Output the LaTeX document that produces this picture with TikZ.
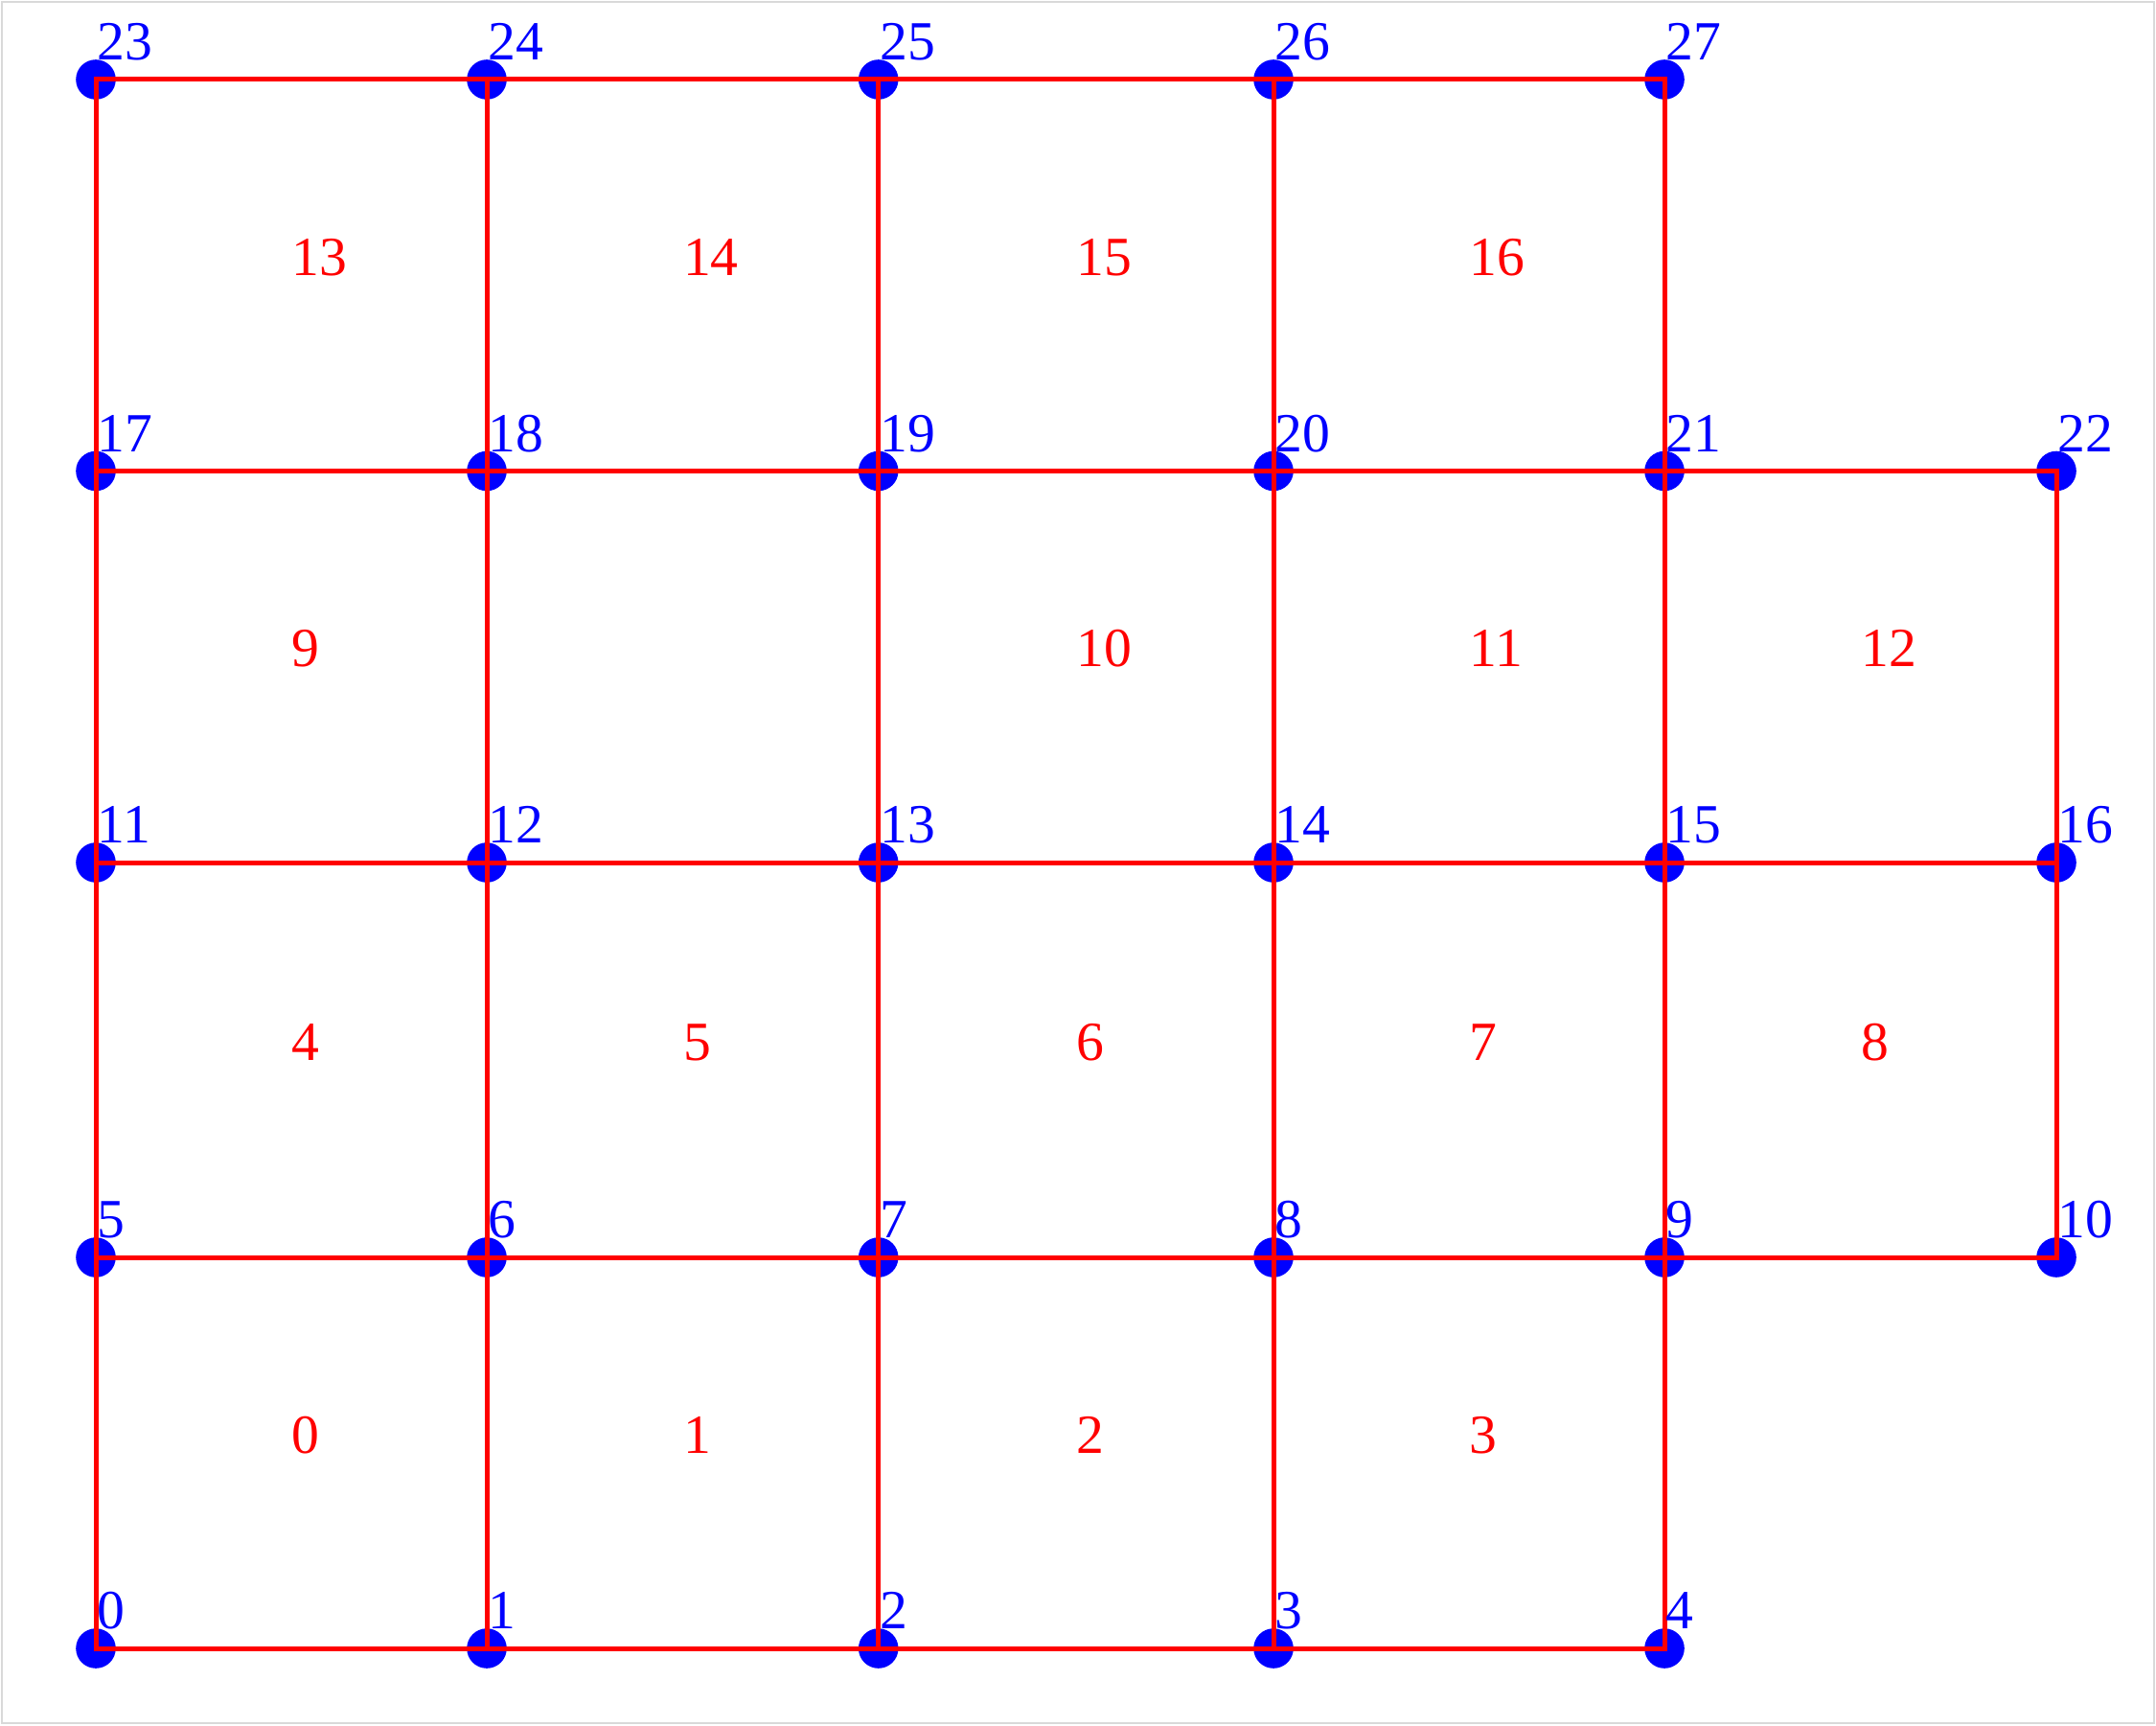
\documentclass[tikz,border=0pt]{standalone}
\usepackage{fontspec}
\setmainfont{Liberation Serif}
\usetikzlibrary{calc}
\begin{document}
\begin{tikzpicture}[
  vertex/.style={circle, fill=blue, draw=none, inner sep=0pt, minimum size=0.416cm},
  edge/.style={draw=red, line width=0.05cm, line join=miter},
  vlab/.style={anchor=base west, inner sep=0pt, text=blue, font=\fontsize{16.4}{19}\selectfont},
  elab/.style={anchor=base west, inner sep=0pt, text=red, font=\fontsize{16.4}{19}\selectfont},
  frame/.style={draw=gray!30, line width=0.4pt}
]
\useasboundingbox (0,0) rectangle (22.5,18);
\draw[frame] (0.02,0.02) rectangle (22.48,17.98);
% vertices
\foreach \i/\x/\y in {
  0/1.00/0.80, 1/5.08/0.80, 2/9.167/0.80, 3/13.29/0.80, 4/17.37/0.80,
  5/1.00/4.88, 6/5.08/4.88, 7/9.167/4.88, 8/13.29/4.88, 9/17.37/4.88, 10/21.46/4.88,
  11/1.00/9.00, 12/5.08/9.00, 13/9.167/9.00, 14/13.29/9.00, 15/17.37/9.00, 16/21.46/9.00,
  17/1.00/13.085, 18/5.08/13.085, 19/9.167/13.085, 20/13.29/13.085, 21/17.37/13.085, 22/21.46/13.085,
  23/1.00/17.17, 24/5.08/17.17, 25/9.167/17.17, 26/13.29/17.17, 27/17.37/17.17}
  {\node[vertex] (n\i) at (\x,\y) {};}
% elements with labels
\foreach \a/\b/\c/\d/\l in {
  0/1/6/5/0, 1/2/7/6/1, 2/3/8/7/2, 3/4/9/8/3,
  5/6/12/11/4, 6/7/13/12/5, 7/8/14/13/6, 8/9/15/14/7, 9/10/16/15/8,
  11/12/18/17/9, 13/14/20/19/10, 14/15/21/20/11, 15/16/22/21/12,
  17/18/24/23/13, 18/19/25/24/14, 19/20/26/25/15, 20/21/27/26/16}
  {\draw[edge] (n\a.center) -- (n\b.center) -- (n\c.center) -- (n\d.center) -- cycle;}
% unlabelled element
\draw[edge] (n12.center) -- (n13.center) -- (n19.center) -- (n18.center) -- cycle;
% element labels
\foreach \a/\c/\l in {
  0/6/0, 1/7/1, 2/8/2, 3/9/3,
  5/12/4, 6/13/5, 7/14/6, 8/15/7, 9/16/8,
  11/18/9, 13/20/10, 14/21/11, 15/22/12,
  17/24/13, 18/25/14, 19/26/15, 20/27/16}
  {\node[elab] (e\l) at ($(n\a.center)!0.5!(n\c.center)$) {\l};}
% vertex labels
\foreach \i in {0,...,27}
  {\node[vlab] (t\i) at ([shift={(0.01,0.205)}]n\i.center) {\i};}
\end{tikzpicture}
\end{document}
